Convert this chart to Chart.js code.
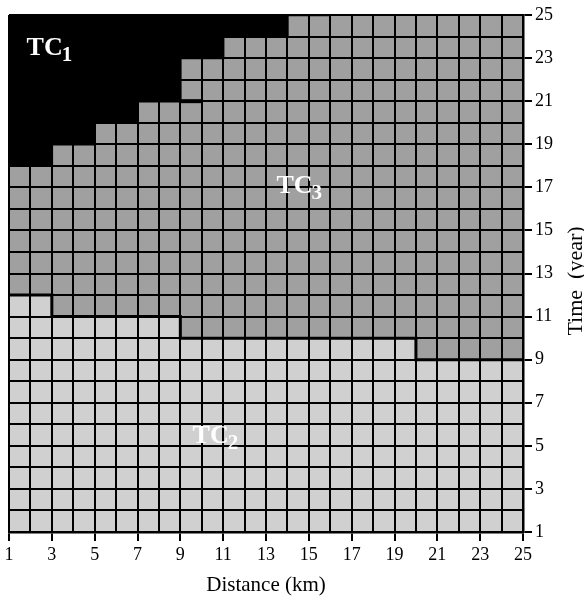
<!DOCTYPE html>
<html><head><meta charset="utf-8">
<script src="https://cdn.jsdelivr.net/npm/chart.js@4.4.0/dist/chart.umd.min.js"></script>
<style>html,body{margin:0;padding:0;background:#fff}#wrap{width:584px;height:600px}</style>
</head><body><div id="wrap"><canvas id="c" width="584" height="600"></canvas></div>
<script>
// Column start positions (Distance, km); each cell spans [x, x+1]
const columnStart = [1,2,3,4,5,6,7,8,9,10,11,12,13,14,15,16,17,18,19,20,21,22,23,24];
// Upper limit (Time, year) of the TC2 zone for each column
const tc2Top = [12,12,11,11,11,11,11,11,10,10,10,10,10,10,10,10,10,10,10,9,9,9,9,9];
// Lower limit (Time, year) of the TC1 zone for columns 1..15
const tc1Bottom = [18,18,19,19,20,20,21,21,23,23,24,24,24,25,25];
// small boundary notch
const notchX = [9,10];
const notchY = [21,21];
// tick labels
const xTicks = [1,3,5,7,9,11,13,15,17,19,21,23,25];
const yTicks = [1,3,5,7,9,11,13,15,17,19,21,23,25];
// zone labels
const zoneMain = ['TC','TC','TC'];
const zoneSub = ['1','3','2'];
const zoneX = [1.82, 13.49, 9.57];
const zoneY = [23.14, 16.72, 5.14];

const colors = {tc1:'#000000', tc2:'#d0d0d0', tc3:'#a0a0a0'};

function stepPoints(vals){
  const pts = vals.map((v,i)=>({x:columnStart[i], y:v}));
  pts.push({x:columnStart[vals.length-1]+1, y:vals[vals.length-1]});
  return pts;
}

const bgPlugin = {
  id:'bg',
  beforeDraw(chart){
    const {ctx, chartArea:a} = chart;
    ctx.save(); ctx.fillStyle = colors.tc3;
    ctx.fillRect(a.left, a.top, a.right-a.left, a.bottom-a.top);
    ctx.restore();
  }
};
const textPlugin = {
  id:'texts',
  afterDraw(chart){
    const {ctx} = chart;
    const xs = chart.scales.x, ys = chart.scales.y;
    ctx.save();
    ctx.fillStyle = '#ffffff';
    ctx.textBaseline = 'alphabetic';
    ctx.textAlign = 'left';
    for (let i=0;i<zoneMain.length;i++){
      const px = xs.getPixelForValue(zoneX[i]);
      const py = ys.getPixelForValue(zoneY[i]);
      ctx.font = "bold 26px 'Liberation Serif'";
      ctx.fillText(zoneMain[i], px, py);
      const w = ctx.measureText(zoneMain[i]).width;
      ctx.font = "bold 21px 'Liberation Serif'";
      ctx.fillText(zoneSub[i], px + w - 1, py + 6);
    }
    // right axis title, reading bottom to top
    ctx.fillStyle = '#000';
    ctx.font = "22px 'Liberation Serif'";
    ctx.textAlign = 'center';
    ctx.translate(582, 281);
    ctx.rotate(-Math.PI/2);
    ctx.fillText('Time  (year)', 0, 0);
    ctx.restore();
  }
};

new Chart(document.getElementById('c'), {
  type:'line',
  data:{
    datasets:[
      {label:'TC1', data: stepPoints(tc1Bottom), stepped:true, fill:'end',
       backgroundColor:colors.tc1, borderColor:'#000', borderWidth:2.5, pointRadius:0},
      {label:'TC2', data: stepPoints(tc2Top), stepped:true, fill:'start',
       backgroundColor:colors.tc2, borderColor:'#000', borderWidth:3, pointRadius:0},
      {label:'notch', data: notchX.map((x,i)=>({x, y:notchY[i]})), fill:false,
       borderColor:'#000', borderWidth:4, pointRadius:0}
    ]
  },
  options:{
    responsive:false, animation:false, devicePixelRatio:1,
    layout:{padding:{left:9, top:15, right:0, bottom:0}},
    plugins:{legend:{display:false}, tooltip:{enabled:false}},
    scales:{
      x:{type:'linear', min:1, max:25,
        afterFit(s){ s.height = 68; },
        ticks:{stepSize:1, autoSkip:false, maxRotation:0, padding:3, color:'#000',
          font:{family:'Liberation Serif', size:18},
          callback:(v)=> xTicks.includes(v) ? String(v) : ''},
        grid:{color:'#000', lineWidth:2, tickLength:9, z:1,
          tickColor:(c)=> (c.tick && xTicks.includes(c.tick.value)) ? '#000' : 'rgba(0,0,0,0)'},
        border:{color:'#000', width:2.5, z:1},
        title:{display:true, text:'Distance (km)', color:'#000',
          font:{family:'Liberation Serif', size:21}, padding:{top:4, bottom:2}}
      },
      y:{type:'linear', position:'right', min:1, max:25,
        afterFit(s){ s.width = 61; },
        ticks:{stepSize:1, autoSkip:false, padding:3, color:'#000',
          font:{family:'Liberation Serif', size:18},
          callback:(v)=> yTicks.includes(v) ? String(v) : ''},
        grid:{color:'#000', lineWidth:2, tickLength:9, z:1,
          tickColor:(c)=> (c.tick && yTicks.includes(c.tick.value)) ? '#000' : 'rgba(0,0,0,0)'},
        border:{color:'#000', width:2.5, z:1}
      }
    }
  },
  plugins:[bgPlugin, textPlugin]
});
</script></body></html>
